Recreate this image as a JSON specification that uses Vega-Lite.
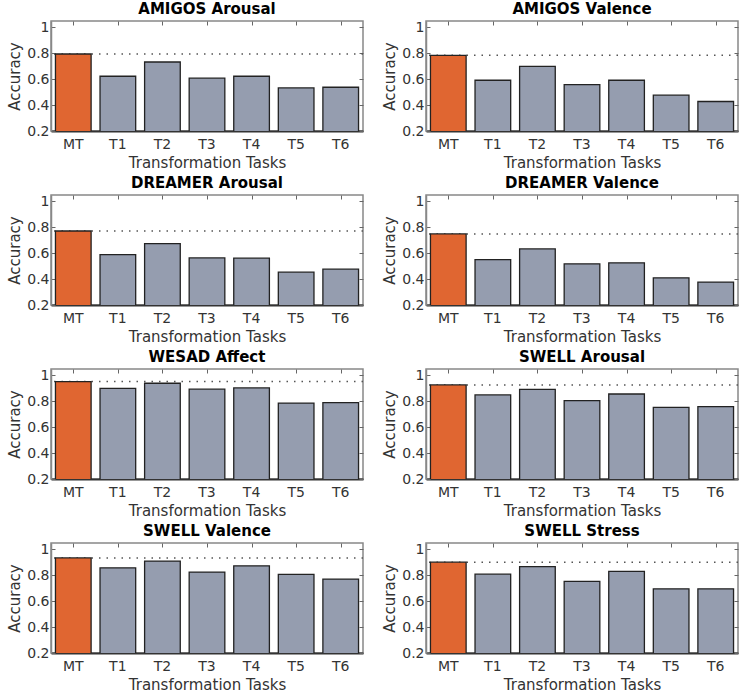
{
  "$schema": "https://vega.github.io/schema/vega-lite/v6.json",
  "padding": {"left": 6, "top": 1, "right": 0, "bottom": 0},
  "background": "white",
  "config": {
    "font": "DejaVu Sans",
    "view": {"stroke": "#888", "strokeWidth": 1.5},
    "axis": {"grid": false, "labelFont": "DejaVu Sans", "titleFont": "DejaVu Sans", "labelColor": "#333", "titleColor": "#333", "labelFontSize": 14, "titleFontSize": 15, "titleFontWeight": "normal", "tickColor": "#666", "labelOverlap": false}
  },
  "data": {"values": [
    {"panel": "AMIGOS Arousal", "task": "MT", "acc": 0.795},
    {"panel": "AMIGOS Arousal", "task": "T1", "acc": 0.623},
    {"panel": "AMIGOS Arousal", "task": "T2", "acc": 0.733},
    {"panel": "AMIGOS Arousal", "task": "T3", "acc": 0.608},
    {"panel": "AMIGOS Arousal", "task": "T4", "acc": 0.623},
    {"panel": "AMIGOS Arousal", "task": "T5", "acc": 0.533},
    {"panel": "AMIGOS Arousal", "task": "T6", "acc": 0.538},
    {"panel": "AMIGOS Valence", "task": "MT", "acc": 0.785},
    {"panel": "AMIGOS Valence", "task": "T1", "acc": 0.592},
    {"panel": "AMIGOS Valence", "task": "T2", "acc": 0.700},
    {"panel": "AMIGOS Valence", "task": "T3", "acc": 0.559},
    {"panel": "AMIGOS Valence", "task": "T4", "acc": 0.592},
    {"panel": "AMIGOS Valence", "task": "T5", "acc": 0.477},
    {"panel": "AMIGOS Valence", "task": "T6", "acc": 0.428},
    {"panel": "DREAMER Arousal", "task": "MT", "acc": 0.772},
    {"panel": "DREAMER Arousal", "task": "T1", "acc": 0.590},
    {"panel": "DREAMER Arousal", "task": "T2", "acc": 0.674},
    {"panel": "DREAMER Arousal", "task": "T3", "acc": 0.564},
    {"panel": "DREAMER Arousal", "task": "T4", "acc": 0.562},
    {"panel": "DREAMER Arousal", "task": "T5", "acc": 0.454},
    {"panel": "DREAMER Arousal", "task": "T6", "acc": 0.477},
    {"panel": "DREAMER Valence", "task": "MT", "acc": 0.749},
    {"panel": "DREAMER Valence", "task": "T1", "acc": 0.551},
    {"panel": "DREAMER Valence", "task": "T2", "acc": 0.633},
    {"panel": "DREAMER Valence", "task": "T3", "acc": 0.518},
    {"panel": "DREAMER Valence", "task": "T4", "acc": 0.526},
    {"panel": "DREAMER Valence", "task": "T5", "acc": 0.410},
    {"panel": "DREAMER Valence", "task": "T6", "acc": 0.377},
    {"panel": "WESAD Affect", "task": "MT", "acc": 0.953},
    {"panel": "WESAD Affect", "task": "T1", "acc": 0.901},
    {"panel": "WESAD Affect", "task": "T2", "acc": 0.940},
    {"panel": "WESAD Affect", "task": "T3", "acc": 0.894},
    {"panel": "WESAD Affect", "task": "T4", "acc": 0.904},
    {"panel": "WESAD Affect", "task": "T5", "acc": 0.787},
    {"panel": "WESAD Affect", "task": "T6", "acc": 0.790},
    {"panel": "SWELL Arousal", "task": "MT", "acc": 0.927},
    {"panel": "SWELL Arousal", "task": "T1", "acc": 0.850},
    {"panel": "SWELL Arousal", "task": "T2", "acc": 0.893},
    {"panel": "SWELL Arousal", "task": "T3", "acc": 0.806},
    {"panel": "SWELL Arousal", "task": "T4", "acc": 0.857},
    {"panel": "SWELL Arousal", "task": "T5", "acc": 0.754},
    {"panel": "SWELL Arousal", "task": "T6", "acc": 0.759},
    {"panel": "SWELL Valence", "task": "MT", "acc": 0.935},
    {"panel": "SWELL Valence", "task": "T1", "acc": 0.858},
    {"panel": "SWELL Valence", "task": "T2", "acc": 0.910},
    {"panel": "SWELL Valence", "task": "T3", "acc": 0.825},
    {"panel": "SWELL Valence", "task": "T4", "acc": 0.874},
    {"panel": "SWELL Valence", "task": "T5", "acc": 0.807},
    {"panel": "SWELL Valence", "task": "T6", "acc": 0.771},
    {"panel": "SWELL Stress", "task": "MT", "acc": 0.902},
    {"panel": "SWELL Stress", "task": "T1", "acc": 0.809},
    {"panel": "SWELL Stress", "task": "T2", "acc": 0.868},
    {"panel": "SWELL Stress", "task": "T3", "acc": 0.753},
    {"panel": "SWELL Stress", "task": "T4", "acc": 0.830},
    {"panel": "SWELL Stress", "task": "T5", "acc": 0.696},
    {"panel": "SWELL Stress", "task": "T6", "acc": 0.696}
  ]},
  "facet": {
    "field": "panel", "type": "nominal",
    "sort": ["AMIGOS Arousal", "AMIGOS Valence", "DREAMER Arousal", "DREAMER Valence", "WESAD Affect", "SWELL Arousal", "SWELL Valence", "SWELL Stress"],
    "header": {"title": null, "labelFont": "DejaVu Sans", "labelFontWeight": "bold", "labelFontSize": 15, "labelColor": "black", "labelPadding": 3}
  },
  "columns": 2,
  "spacing": {"row": 4, "column": 16},
  "spec": {
    "width": 312,
    "height": 110,
    "layer": [
      {
        "layer": [
          {
            "transform": [{"filter": "datum.task === 'MT'"}],
            "mark": {"type": "rule", "strokeDash": [1.5, 6], "color": "#555", "strokeWidth": 1.5},
            "encoding": {"y": {"field": "acc", "type": "quantitative",
                    "axis": {"title": "Accuracy", "values": [0.2, 0.4, 0.6, 0.8, 1], "tickCount": 5, "format": "~g", "labelOverlap": false, "domainColor": "#888", "domainWidth": 1.5, "tickSize": -4, "labelPadding": 6, "titlePadding": 4}}}
          },
          {
            "mark": {"type": "bar", "stroke": "#222", "strokeWidth": 1.3, "clip": true},
            "encoding": {
              "x": {"field": "task", "type": "nominal", "sort": ["MT", "T1", "T2", "T3", "T4", "T5", "T6"],
                    "scale": {"paddingInner": 0.2, "paddingOuter": 0.1},
                    "axis": {"title": "Transformation Tasks", "labelAngle": 0, "domainColor": "#333", "domainWidth": 2, "tickSize": 0, "labelPadding": 6, "titlePadding": 4}},
              "y": {"field": "acc", "type": "quantitative",
                    "scale": {"domain": [0.2, 1.05], "zero": false, "nice": false},
                    "axis": {"title": "Accuracy", "values": [0.2, 0.4, 0.6, 0.8, 1], "tickCount": 5, "format": "~g", "labelOverlap": false, "domainColor": "#888", "domainWidth": 1.5, "tickSize": -4, "labelPadding": 6, "titlePadding": 4}},
              "color": {"condition": {"test": "datum.task === 'MT'", "value": "#E06631"}, "value": "#959DAF"}
            }
          }
        ]
      },
      {
        "mark": {"type": "point", "opacity": 0},
        "encoding": {
          "x": {"field": "task", "type": "nominal", "sort": ["MT", "T1", "T2", "T3", "T4", "T5", "T6"],
                "scale": {"type": "point", "padding": 0.5},
                "axis": {"orient": "top", "title": null, "labels": false, "domain": false, "tickSize": -4}},
          "y": {"field": "acc", "type": "quantitative",
                "scale": {"domain": [0.2, 1.05], "zero": false, "nice": false},
                "axis": {"orient": "right", "title": null, "labels": false, "domain": false, "values": [0.2, 0.4, 0.6, 0.8, 1], "tickSize": -4}}
        }
      }
    ],
    "resolve": {"scale": {"x": "independent", "y": "independent"}}
  },
  "resolve": {"axis": {"x": "independent", "y": "independent"}}
}
